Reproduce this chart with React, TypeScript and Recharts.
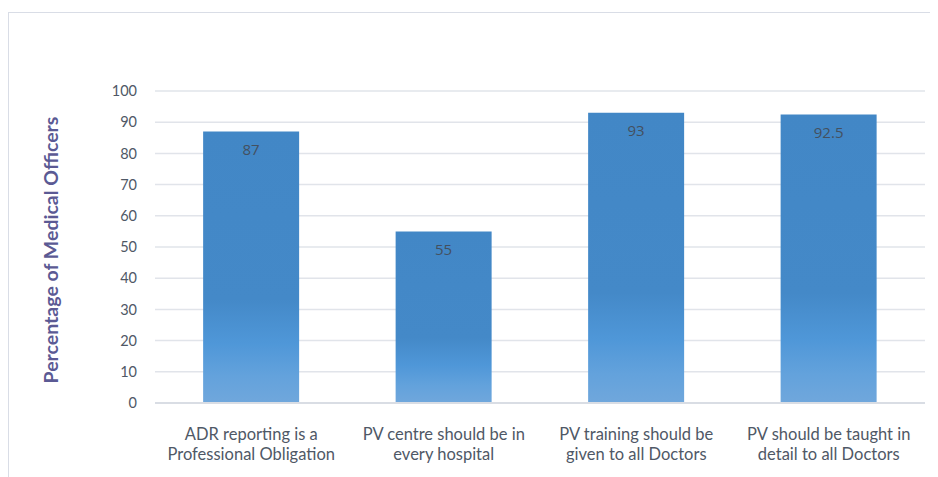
import React from "react";
import { BarChart, Bar, XAxis, YAxis, CartesianGrid, LabelList, Label } from "recharts";

const categories = [
  "ADR reporting is a|Professional Obligation",
  "PV centre should be in|every hospital",
  "PV training should be|given to all Doctors",
  "PV should be taught in|detail to all Doctors",
];
const values = [87, 55, 93, 92.5];
const yTicks = [0, 10, 20, 30, 40, 50, 60, 70, 80, 90, 100];
const yTitle = "Percentage of Medical Officers";

const data = categories.map((c, i) => ({ name: c, value: values[i] }));

const FONT = "Lato, 'Open Sans', sans-serif";

const XTick = (props: any) => {
  const { x, y, payload } = props;
  const lines = String(payload.value).split("|");
  return (
    <text x={x} y={y} textAnchor="middle" fill="#4f5866" fontFamily={FONT} fontSize={16.5}>
      {lines.map((l, i) => (
        <tspan key={i} x={x} dy={i === 0 ? 29 : 20}>
          {l}
        </tspan>
      ))}
    </text>
  );
};

const YTitle = (props: any) => {
  const cx = 42;
  const cy = 242;
  return (
    <text
      x={cx}
      y={cy}
      transform={`rotate(-90, ${cx}, ${cy})`}
      textAnchor="middle"
      dominantBaseline="central"
      fill="#5b5a94"
      fontFamily={FONT}
      fontWeight="bold"
      fontSize={19.5}
    >
      {yTitle}
    </text>
  );
};

export default function App() {
  return (
    <div style={{ position: "relative", width: 930, height: 469 }}>
      <div
        style={{
          position: "absolute",
          left: 0,
          top: 4,
          right: 0,
          bottom: -10,
          borderLeft: "1px solid #d9dde6",
          borderTop: "1px solid #d9dde6",
        }}
      />
      <BarChart
        width={930}
        height={469}
        data={data}
        margin={{ top: 83, right: 13, bottom: 0, left: 0 }}
        barCategoryGap="25%"
        style={{ position: "absolute", left: 0, top: 0 }}
      >
        <defs>
          <linearGradient id="barGrad" x1="0" y1="0" x2="0" y2="1">
            <stop offset="0" stopColor="#4287c6" />
            <stop offset="0.62" stopColor="#4489c8" />
            <stop offset="0.78" stopColor="#4f97d8" />
            <stop offset="0.9" stopColor="#63a2dc" />
            <stop offset="1" stopColor="#70a7dc" />
          </linearGradient>
        </defs>
        <CartesianGrid vertical={false} stroke="#e1e4ea" strokeWidth={1.5} />
        <XAxis
          dataKey="name"
          height={74}
          tickLine={false}
          axisLine={{ stroke: "#d9dde4", strokeWidth: 2 }}
          tick={<XTick />}
          interval={0}
        />
        <YAxis
          width={147}
          domain={[0, 100]}
          ticks={yTicks}
          axisLine={false}
          tickLine={false}
          tickSize={8}
          tickMargin={10}
          tick={{ fill: "#4f5866", fontFamily: FONT, fontSize: 14.5 }}
        >
          <Label content={<YTitle />} />
        </YAxis>
        <Bar dataKey="value" fill="url(#barGrad)" isAnimationActive={false}>
          <LabelList
            dataKey="value"
            position="insideTop"
            offset={13}
            fill="#44505f"
            fontFamily="'Open Sans', sans-serif"
            fontSize={15}
          />
        </Bar>
      </BarChart>
    </div>
  );
}
